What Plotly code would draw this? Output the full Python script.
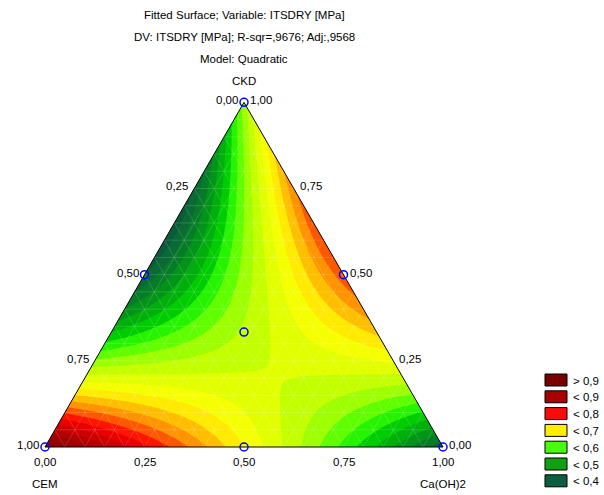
import numpy as np
import plotly.graph_objects as go

# ---- data: mixture design points (proportions) and observed response ----
cem = [1.0, 0.0, 0.0, 0.5, 0.0, 0.5, 1 / 3]
ckd = [0.0, 1.0, 0.0, 0.5, 0.5, 0.0, 1 / 3]
caoh2 = [0.0, 0.0, 1.0, 0.0, 0.5, 0.5, 1 / 3]
itsdry = [0.96, 0.61, 0.43, 0.435, 0.80, 0.71, 0.61]

tick_values = [0.0, 0.25, 0.5, 0.75, 1.0]
tick_labels = ["0,00", "0,25", "0,50", "0,75", "1,00"]
legend_labels = ["> 0,9", "< 0,9", "< 0,8", "< 0,7", "< 0,6", "< 0,5", "< 0,4"]
legend_colors = ["#7a0000", "#a60000", "#ff0a0a", "#ffee00", "#44ff11", "#11a011", "#0c5e40"]
title_lines = [
    "Fitted Surface; Variable: ITSDRY [MPa]",
    "DV: ITSDRY [MPa]; R-sqr=,9676; Adj:,9568",
    "Model: Quadratic",
]

# ---- quadratic (Scheffe) mixture model fitted to the design points ----
E0, K0, C0 = np.array(cem), np.array(ckd), np.array(caoh2)
X = np.column_stack([E0, K0, C0, E0 * K0, E0 * C0, K0 * C0])
coef, *_ = np.linalg.lstsq(X, np.array(itsdry), rcond=None)

H = np.sqrt(3) / 2
gx = np.linspace(0, 1, 401)
gy = np.linspace(0, H, 350)
GX, GY = np.meshgrid(gx, gy)
K = GY / H
C = GX - K / 2
E = 1 - C - K
Z = (coef[0] * E + coef[1] * K + coef[2] * C
     + coef[3] * E * K + coef[4] * E * C + coef[5] * K * C)

def tx(e, k, c):
    return c + k / 2

def ty(e, k, c):
    return k * H

# ---- colour scale (value -> colour), contour bands ----
start, end, size = 0.30, 0.99, 0.025
nc = int(np.floor((end - start) / size)) + 1
lo = start - size / 2
hi = start + (nc - 0.5) * size
anchors = [
    (0.30, "#0a4430"), (0.38, "#0a4f34"), (0.42, "#0b5e3c"), (0.46, "#067a2a"),
    (0.50, "#00a010"), (0.54, "#00d000"), (0.57, "#33ff00"), (0.61, "#99ff00"),
    (0.64, "#c8ff00"), (0.67, "#eaff00"), (0.70, "#ffff00"), (0.73, "#ffcc00"),
    (0.76, "#ff9900"), (0.79, "#ff5000"), (0.82, "#ff0000"), (0.86, "#d00000"),
    (0.90, "#a80000"), (0.95, "#850000"), (1.0, "#6a0000"),
]
clean = []
for v, col in anchors:
    f = min(max((v - lo) / (hi - lo), 0.0), 1.0)
    if clean and abs(clean[-1][0] - f) < 1e-9:
        clean[-1] = [f, col]
    else:
        clean.append([f, col])
if clean[0][0] > 0:
    clean.insert(0, [0.0, clean[0][1]])
if clean[-1][0] < 1:
    clean.append([1.0, clean[-1][1]])

fig = go.Figure()
fig.add_trace(go.Contour(
    x=gx, y=gy, z=Z, autocontour=False,
    contours=dict(start=start, end=end, size=size, coloring="fill"),
    line=dict(width=0), colorscale=clean, showscale=False, hoverinfo="skip",
))

# faint mesh lines over the surface (parallel to the three sides)
mx, my = [], []
step = 0.05
for a in np.arange(step, 1.0, step):
    mx += [tx(1 - a, a, 0), tx(0, a, 1 - a), None]
    my += [ty(1 - a, a, 0), ty(0, a, 1 - a), None]
    mx += [tx(a, 1 - a, 0), tx(a, 0, 1 - a), None]
    my += [ty(a, 1 - a, 0), ty(a, 0, 1 - a), None]
    mx += [tx(1 - a, 0, a), tx(0, 1 - a, a), None]
    my += [ty(1 - a, 0, a), ty(0, 1 - a, a), None]
fig.add_trace(go.Scatter(x=mx, y=my, mode="lines",
                         line=dict(color="rgba(255,255,255,0.22)", width=0.7),
                         hoverinfo="skip", showlegend=False))

# white masks outside the triangle
fig.add_trace(go.Scatter(
    x=[0, 0.5, 0.5, -0.02, -0.02, 0], y=[0, H, H + 0.03, H + 0.03, 0, 0],
    fill="toself", fillcolor="white", line=dict(width=0), mode="lines",
    hoverinfo="skip", showlegend=False))
fig.add_trace(go.Scatter(
    x=[1, 0.5, 0.5, 1.02, 1.02, 1], y=[0, H, H + 0.03, H + 0.03, 0, 0],
    fill="toself", fillcolor="white", line=dict(width=0), mode="lines",
    hoverinfo="skip", showlegend=False))

# triangle outline
fig.add_trace(go.Scatter(
    x=[0, 1, 0.5, 0], y=[0, 0, H, 0], mode="lines",
    line=dict(color="black", width=1), hoverinfo="skip", showlegend=False))

# design points
fig.add_trace(go.Scatter(
    x=[tx(e, k, c) for e, k, c in zip(cem, ckd, caoh2)],
    y=[ty(e, k, c) for e, k, c in zip(cem, ckd, caoh2)],
    mode="markers",
    marker=dict(symbol="circle-open", size=8, color="#0000ff", line=dict(width=1.5)),
    showlegend=False, hoverinfo="skip"))

font = dict(family="Arial, Liberation Sans, sans-serif", size=11.5, color="black")
ann = []
for v, lab in zip(tick_values, tick_labels):
    ann.append(dict(x=tx(v, 1 - v, 0), y=ty(v, 1 - v, 0), text=lab, showarrow=False,
                    xanchor="right", yanchor="middle", xshift=-4, yshift=2, font=font))
for v, lab in zip(tick_values, tick_labels):
    ann.append(dict(x=tx(0, v, 1 - v), y=ty(0, v, 1 - v), text=lab, showarrow=False,
                    xanchor="left", yanchor="middle", xshift=4, yshift=2, font=font))
for v, lab in zip(tick_values, tick_labels):
    ann.append(dict(x=tx(1 - v, 0, v), y=ty(1 - v, 0, v), text=lab, showarrow=False,
                    xanchor="center", yanchor="top", yshift=-7, font=font))
ann.append(dict(x=0.5, y=H, text="CKD", showarrow=False, xanchor="center",
                yanchor="bottom", yshift=13, font=font))
ann.append(dict(x=0, y=0, text="CEM", showarrow=False, xanchor="center",
                yanchor="top", yshift=-29, font=font))
ann.append(dict(x=1, y=0, text="Ca(OH)2", showarrow=False, xanchor="center",
                yanchor="top", yshift=-29, font=font))

W, HH = 604, 495
LX, BY = 45, 447   # triangle left vertex / baseline in px
UNIT = 398.0
for i, t in enumerate(title_lines):
    ann.append(dict(xref="paper", yref="paper", x=244 / W, y=1 - (15 + 22 * i) / HH,
                    text=t, showarrow=False, xanchor="center", yanchor="middle", font=font))

shapes = []
for i, (lab, col) in enumerate(zip(legend_labels, legend_colors)):
    top = 374 + i * 16.8
    shapes.append(dict(type="rect", xref="paper", yref="paper",
                       x0=545 / W, x1=567 / W, y0=1 - (top + 12) / HH, y1=1 - top / HH,
                       fillcolor=col, line=dict(color="black", width=1)))
    ann.append(dict(xref="paper", yref="paper", x=571 / W, y=1 - (top + 6.5) / HH,
                    text=lab, showarrow=False, xanchor="left", yanchor="middle", font=font))

fig.update_layout(
    width=W, height=HH, margin=dict(l=0, r=0, t=0, b=0),
    paper_bgcolor="white", plot_bgcolor="white",
    xaxis=dict(range=[-LX / UNIT, (W - LX) / UNIT], visible=False, fixedrange=True),
    yaxis=dict(range=[-(HH - BY) / UNIT, BY / UNIT], visible=False, fixedrange=True),
    annotations=ann, shapes=shapes, showlegend=False,
)
fig.write_html("out.html", config={"displayModeBar": False},
               post_script="document.body.style.margin='0';document.body.style.overflow='hidden';")
